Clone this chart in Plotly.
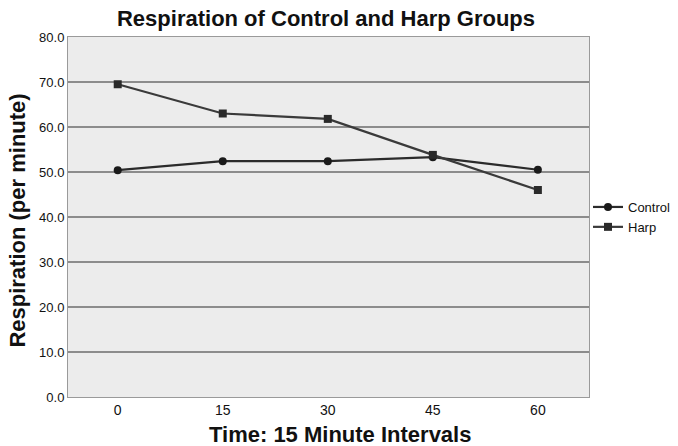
import plotly.graph_objects as go

# Datos
tiempo = [0, 15, 30, 45, 60]
control = [50.4, 52.4, 52.4, 53.3, 50.5]
harp = [69.5, 63.0, 61.8, 53.8, 46.0]
ticks_y = [0, 10, 20, 30, 40, 50, 60, 70, 80]
etiquetas_y = [f"{v:.1f}" for v in ticks_y]

fig = go.Figure()

fig.add_trace(go.Scatter(
    x=tiempo, y=control, name='Control', mode='lines+markers',
    line=dict(color='#2b2b2b', width=2.2),
    marker=dict(symbol='circle', size=8, color='#1a1a1a'),
))
fig.add_trace(go.Scatter(
    x=tiempo, y=harp, name='Harp', mode='lines+markers',
    line=dict(color='#3a3a3a', width=2.2),
    marker=dict(symbol='square', size=8, color='#2a2a2a'),
))

fig.update_layout(
    width=678, height=446,
    # autoexpand apagado: la leyenda se corta en el borde como en el original
    margin=dict(l=68, r=89, t=37, b=49, autoexpand=False),
    paper_bgcolor='white',
    plot_bgcolor='#ececec',
    font=dict(family='Liberation Sans, Arial, sans-serif', color='#111'),
    title=dict(
        text='<b>Respiration of Control and Harp Groups</b>',
        x=326 / 678, xanchor='center', y=1 - 18 / 446, yanchor='middle',
        font=dict(size=22, color='#111'),
    ),
    showlegend=True,
    legend=dict(
        x=(588 - 68) / 521, xanchor='left', y=(397 - 217) / 360, yanchor='middle',
        font=dict(size=13, color='#111'),
        bgcolor='rgba(0,0,0,0)', itemwidth=30, tracegroupgap=0,
    ),
    annotations=[
        dict(text='<b>Respiration (per minute)</b>', textangle=-90,
             xref='paper', yref='paper', x=-(68 - 18) / 521, y=0.49,
             xanchor='center', yanchor='middle', showarrow=False,
             font=dict(size=22, color='#111')),
        dict(text='<b>Time: 15 Minute Intervals</b>',
             xref='paper', yref='paper', x=(340 - 68) / 521, y=-(434 - 397) / 360,
             xanchor='center', yanchor='middle', showarrow=False,
             font=dict(size=22, color='#111',
                       family='Liberation Sans Narrow, Arial Narrow, sans-serif')),
    ],
)

fig.update_xaxes(
    range=[-7.1, 67.3], tickvals=tiempo, ticks='', showgrid=False, zeroline=False,
    showline=True, linecolor='#9a9a9a', linewidth=1, mirror=True,
    tickfont=dict(size=14, color='#111'),
)
fig.update_yaxes(
    range=[0, 80], tickvals=ticks_y, ticktext=etiquetas_y, ticks='',
    showgrid=True, gridcolor='#8c8c8c', gridwidth=1.6, zeroline=False,
    showline=True, linecolor='#9a9a9a', linewidth=1, mirror=True,
    tickfont=dict(size=13, color='#111'),
)

# Quitamos el margen del body para que la figura ocupe la ventana completa
fig.write_html(
    "out.html",
    config={'displayModeBar': False},
    post_script="document.body.style.margin='0';document.body.style.overflow='hidden';",
)
